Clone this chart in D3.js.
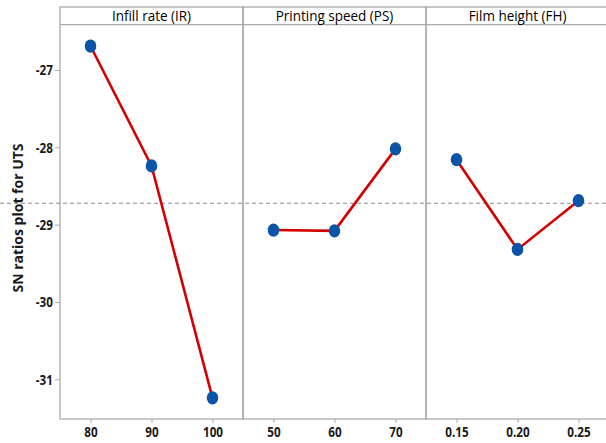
<!DOCTYPE html>
<html>
<head>
<meta charset="utf-8">
<script src="https://cdn.jsdelivr.net/npm/d3@7"></script>
<style>
  html, body { margin: 0; padding: 0; background: #fff; }
  svg { display: block; font-family: "Open Sans", "Noto Sans", sans-serif; }
</style>
</head>
<body>
<svg id="chart" width="606" height="443"></svg>
<script>
// Main effects of S/N ratios for UTS, one panel per factor
const factors = ["Infill rate (IR)", "Printing speed (PS)", "Film height (FH)"];
const levelsIR = ["80", "90", "100"];
const levelsPS = ["50", "60", "70"];
const levelsFH = ["0.15", "0.20", "0.25"];
const snIR = [-26.69, -28.24, -31.24];
const snPS = [-29.07, -29.08, -28.02];
const snFH = [-28.16, -29.32, -28.69];
const yTicks = [-27, -28, -29, -30, -31];
const yLabel = "SN ratios plot for UTS";

const panels = [
  { title: factors[0], levels: levelsIR, values: snIR },
  { title: factors[1], levels: levelsPS, values: snPS },
  { title: factors[2], levels: levelsFH, values: snFH }
];

const allValues = snIR.concat(snPS, snFH);
const grandMean = d3.mean(allValues);

const svg = d3.select("#chart");
const frameLeft = 60, frameTop = 7, headerH = 17.7, frameBottom = 419, panelW = 183;
const plotTop = frameTop + headerH;
const frameColor = "#a9a9a9";
const squeeze = 0.78;   // narrow glyphs for tick labels

const y = d3.scaleLinear().domain([-31, -27]).range([379.3, 70]);

// Panel frames and headers
panels.forEach((p, i) => {
  const x0 = frameLeft + i * panelW;
  const g = svg.append("g");
  g.append("rect")
    .attr("x", x0).attr("y", frameTop)
    .attr("width", panelW).attr("height", frameBottom - frameTop)
    .attr("fill", "none").attr("stroke", frameColor).attr("stroke-width", 1.3);
  g.append("line")
    .attr("x1", x0).attr("x2", x0 + panelW)
    .attr("y1", plotTop).attr("y2", plotTop)
    .attr("stroke", frameColor).attr("stroke-width", 1.3);
  g.append("text")
    .attr("transform", `translate(${x0 + panelW / 2},${frameTop + 14.3}) scale(0.9,1)`)
    .attr("text-anchor", "middle")
    .attr("font-size", 15).attr("fill", "#000")
    .text(p.title);
});

// Grand mean reference line
svg.append("line")
  .attr("x1", 0).attr("x2", 606)
  .attr("y1", y(grandMean)).attr("y2", y(grandMean))
  .attr("stroke", "#8c8c8c").attr("stroke-width", 1)
  .attr("stroke-dasharray", "4,3");

// Y axis
const yAxis = d3.axisLeft(y).tickValues(yTicks).tickSize(5).tickPadding(2)
  .tickFormat(d => String(d));
const yg = svg.append("g").attr("transform", `translate(${frameLeft},0)`).call(yAxis);
yg.select(".domain").remove();
yg.selectAll(".tick line").attr("stroke", frameColor);
yg.selectAll(".tick text")
  .attr("x", -7 / squeeze)
  .attr("transform", `scale(${squeeze},1)`)
  .attr("font-size", 15).attr("font-weight", 700).attr("fill", "#1a1a1a")
  .attr("font-family", "'Open Sans', sans-serif");

svg.append("text")
  .attr("transform", "translate(23,218) rotate(-90)")
  .attr("text-anchor", "middle")
  .attr("font-size", 14).attr("font-weight", 700).attr("fill", "#1a1a1a")
  .text(yLabel);

// Lines and markers for each factor
panels.forEach((p, i) => {
  const x0 = frameLeft + i * panelW;
  const x = d3.scalePoint().domain(p.levels).range([x0, x0 + panelW]).padding(0.5);

  const xAxis = d3.axisBottom(x).tickSize(4).tickPadding(3);
  const xg = svg.append("g").attr("transform", `translate(0,${frameBottom})`).call(xAxis);
  xg.select(".domain").remove();
  xg.selectAll(".tick line").attr("stroke", frameColor);
  xg.selectAll(".tick text")
    .attr("transform", `scale(${squeeze},1)`)
    .attr("font-size", 15).attr("font-weight", 700).attr("fill", "#1a1a1a")
    .attr("font-family", "'Open Sans', sans-serif");

  const pts = p.levels.map((l, k) => [x(l), y(p.values[k])]);
  svg.append("path")
    .attr("d", d3.line()(pts))
    .attr("fill", "none").attr("stroke", "#d40000").attr("stroke-width", 2.6);
  svg.append("g").selectAll("ellipse").data(pts).join("ellipse")
    .attr("cx", d => d[0]).attr("cy", d => d[1])
    .attr("rx", 5.8).attr("ry", 6.6)
    .attr("fill", "#0a55a8");
});
</script>
</body>
</html>
